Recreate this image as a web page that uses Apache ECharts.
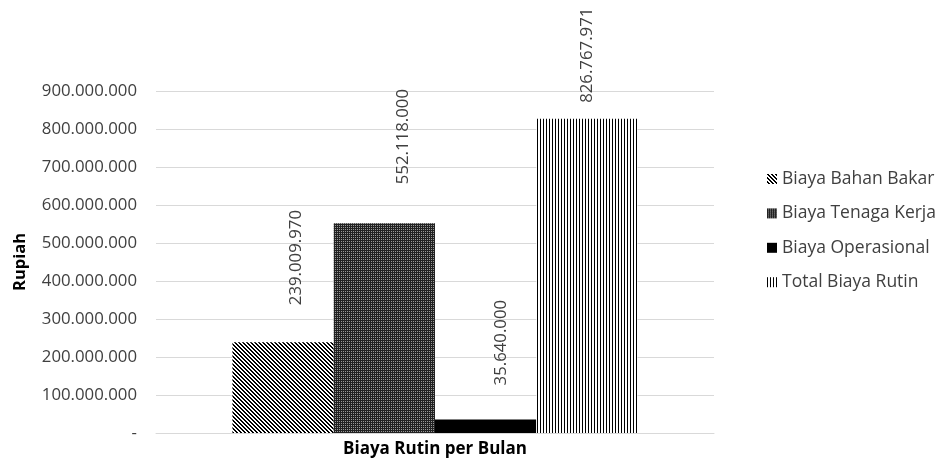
<!DOCTYPE html>
<html><head><meta charset="utf-8">
<script src="https://cdn.jsdelivr.net/npm/echarts@6/dist/echarts.min.js"></script>
<style>html,body{margin:0;padding:0;background:#fff}#c{width:943px;height:462px}</style>
</head><body><div id="c"></div>
<script>
const categories = ['Biaya Rutin per Bulan'];
const seriesNames = ['Biaya Bahan Bakar', 'Biaya Tenaga Kerja', 'Biaya Operasional', 'Total Biaya Rutin'];
const bahanBakar = [239009970];
const tenagaKerja = [552118000];
const operasional = [35640000];
const totalRutin = [826767971];
const yMin = 0, yMax = 900000000, yStep = 100000000;

function fmt(n) {
  if (n === 0) return '-';
  return String(Math.round(n)).replace(/\B(?=(\d{3})+(?!\d))/g, '.');
}
function makePattern(size, draw) {
  const c = document.createElement('canvas');
  c.width = c.height = size;
  const ctx = c.getContext('2d');
  ctx.fillStyle = '#fff'; ctx.fillRect(0, 0, size, size);
  ctx.fillStyle = '#000';
  draw(ctx);
  return { image: c, repeat: 'repeat' };
}
const pDiag = makePattern(4, ctx => { for (let y = 0; y < 4; y++) { ctx.fillRect(y % 4, y, 1, 1); ctx.fillRect((y + 1) % 4, y, 1, 1); } });
const pGrid = makePattern(2, ctx => { ctx.fillStyle = '#222'; ctx.fillRect(0, 0, 2, 2); ctx.fillStyle = '#999'; ctx.fillRect(1, 1, 1, 1); });
const pVert = makePattern(3, ctx => { ctx.fillRect(0, 0, 1, 3); });

const FONT = 'Open Sans';
const TXT = '#404040';
function lbl(pos) {
  return { show: true, position: pos, rotate: 90, align: 'left', verticalAlign: 'middle',
    formatter: p => fmt(p.value), color: TXT, fontFamily: FONT, fontSize: 16.8 };
}
const chart = echarts.init(document.getElementById('c'), null, { renderer: 'canvas' });
chart.setOption({
  animation: false,
  backgroundColor: '#fff',
  grid: { left: 156, right: 229, top: 91, bottom: 29 },
  legend: {
    orient: 'vertical', left: 762, top: 165, icon: 'rect', itemWidth: 10, itemHeight: 10, itemGap: 16.4,
    textStyle: { color: TXT, fontFamily: FONT, fontSize: 17.5, lineHeight: 18 },
    data: seriesNames
  },
  xAxis: {
    type: 'category', data: categories,
    axisLine: { lineStyle: { color: '#d9d9d9', width: 1 } },
    axisTick: { show: false },
    axisLabel: { color: '#000', fontWeight: 'bold', fontFamily: FONT, fontSize: 17, margin: 8 }
  },
  yAxis: {
    type: 'value', min: yMin, max: yMax, interval: yStep,
    name: 'Rupiah', nameLocation: 'middle', nameGap: 127,
    nameTextStyle: { color: '#000', fontWeight: 'bold', fontFamily: FONT, fontSize: 16.5 },
    axisLine: { show: false }, axisTick: { show: false },
    axisLabel: { formatter: fmt, color: TXT, fontFamily: FONT, fontSize: 16.8, margin: 19 },
    splitLine: { lineStyle: { color: '#d9d9d9', width: 1 } }
  },
  series: [
    { name: seriesNames[0], type: 'bar', data: bahanBakar, barGap: '0%', barCategoryGap: '27.4%',
      itemStyle: { color: pDiag }, label: lbl([64, -37]) },
    { name: seriesNames[1], type: 'bar', data: tenagaKerja,
      itemStyle: { color: pGrid }, label: lbl([70, -39]) },
    { name: seriesNames[2], type: 'bar', data: operasional,
      itemStyle: { color: '#000' }, label: lbl([66, -34]) },
    { name: seriesNames[3], type: 'bar', data: totalRutin,
      itemStyle: { color: pVert }, label: lbl([51, -16]) }
  ]
});
</script></body></html>
